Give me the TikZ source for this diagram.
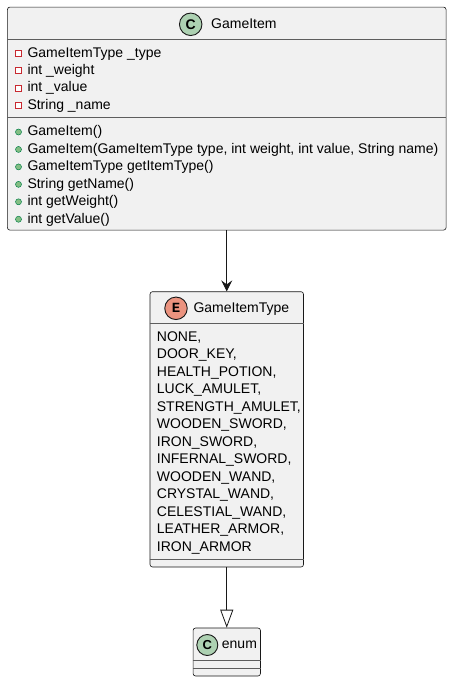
\documentclass[tikz,border=0pt]{standalone}
\usepackage{fontspec}
\setmainfont{Liberation Sans}
\newfontfamily\monofnt{Liberation Mono}
\usetikzlibrary{arrows.meta}
\definecolor{boxfill}{HTML}{F1F1F1}
\definecolor{boxline}{HTML}{181818}
\definecolor{cgreen}{HTML}{ADD1B2}
\definecolor{ered}{HTML}{EB937F}
\definecolor{privred}{HTML}{C82930}
\definecolor{pubfill}{HTML}{84BE84}
\definecolor{publine}{HTML}{038048}
\definecolor{sepline}{HTML}{181818}
\begin{document}
\begin{tikzpicture}[x=1pt,y=-1pt,
  classbox/.style={draw=boxline,fill=boxfill,line width=0.6pt,rounded corners=2.5pt,inner sep=0pt},
  sepl/.style={draw=sepline!70,line width=0.6pt},
  txt/.style={anchor=west,inner sep=0pt,text height=10.5pt,text depth=3pt,font=\fontsize{14}{17}\selectfont,text=black},
  badge/.style={circle,draw=boxline,line width=0.9pt,minimum size=22.5pt,inner sep=0pt},
  privicon/.style={draw=privred,line width=0.7pt,fill=white,minimum size=6pt,inner sep=0pt},
  pubicon/.style={circle,draw=publine,fill=pubfill,line width=0.5pt,minimum size=6pt,inner sep=0pt},
  assoc/.style={draw=boxline,line width=0.8pt,-{Stealth[length=11pt,width=11pt,inset=4pt]}},
  extends/.style={draw=boxline,line width=0.8pt,-{Triangle[open,length=18pt,width=13pt,fill=white]}}
]
\useasboundingbox (0,0) rectangle (452,682);
\fill[white] (0,0) rectangle (452,682);

% GameItem class
\node[classbox,minimum width=438.7pt,minimum height=223pt] (gi) at (226.75,118.6) {};
\draw[sepl] (gi.west |- 0,39.5) coordinate (gis1) -- (gi.east |- 0,39.5) coordinate (gis2);
\draw[sepl] (gi.west |- 0,117.5) coordinate (gis3) -- (gi.east |- 0,117.5) coordinate (gis4);
\node[badge,fill=cgreen] (gic) at (190.7,24.3) {\fontsize{14}{14}\selectfont\bfseries C};
\node[txt] (gin) at (211,24.3) {GameItem};

\foreach \i/\t in {0/{GameItemType \_type},1/{int \_weight},2/{int \_value},3/{String \_name}}{
  \node[privicon] (pa\i) at (18.5,53.3+\i*17.35) {};
  \node[txt] (at\i) at (27.3,53.3+\i*17.35) {\t};
}
\foreach \i/\t in {0/{GameItem()},1/{GameItem(GameItemType type, int weight, int value, String name)},2/{GameItemType getItemType()},3/{String getName()},4/{int getWeight()},5/{int getValue()}}{
  \node[pubicon] (pm\i) at (18.5,132+\i*17.45) {};
  \node[txt] (mt\i) at (27.3,132+\i*17.45) {\t};
}

% GameItemType enum
\node[classbox,minimum width=153.5pt,minimum height=275.3pt] (git) at (226.75,429.35) {};
\draw[sepl] (git.west |- 0,323.3) coordinate (gts1) -- (git.east |- 0,323.3) coordinate (gts2);
\draw[sepl] (git.west |- 0,559) coordinate (gts3) -- (git.east |- 0,559) coordinate (gts4);
\node[badge,fill=ered] (gite) at (176,308.3) {\monofnt\fontsize{14}{14}\selectfont\bfseries E};
\node[txt] (gitn) at (193.3,308.3) {GameItemType};
\foreach \i/\t in {0/{NONE,},1/{DOOR\_KEY,},2/{HEALTH\_POTION,},3/{LUCK\_AMULET,},4/{STRENGTH\_AMULET,},5/{WOODEN\_SWORD,},6/{IRON\_SWORD,},7/{INFERNAL\_SWORD,},8/{WOODEN\_WAND,},9/{CRYSTAL\_WAND,},10/{CELESTIAL\_WAND,},11/{LEATHER\_ARMOR,},12/{IRON\_ARMOR}}{
  \node[txt] (ev\i) at (156.7,337.3+\i*17.5) {\t};
}

% enum class
\node[classbox,minimum width=67.4pt,minimum height=48pt] (en) at (226.75,652) {};
\draw[sepl] (en.west |- 0,660.7) coordinate (ens1) -- (en.east |- 0,660.7) coordinate (ens2);
\draw[sepl] (en.west |- 0,668.7) coordinate (ens3) -- (en.east |- 0,668.7) coordinate (ens4);
\node[badge,fill=cgreen,minimum size=21pt] (enc) at (207.3,645) {\fontsize{13}{13}\selectfont\bfseries C};
\node[txt] (enn) at (221.7,645) {enum};

% connectors
\draw[assoc] (gi.south) -- (git.north);
\draw[extends] (git.south) -- (en.north);
\end{tikzpicture}
\end{document}
